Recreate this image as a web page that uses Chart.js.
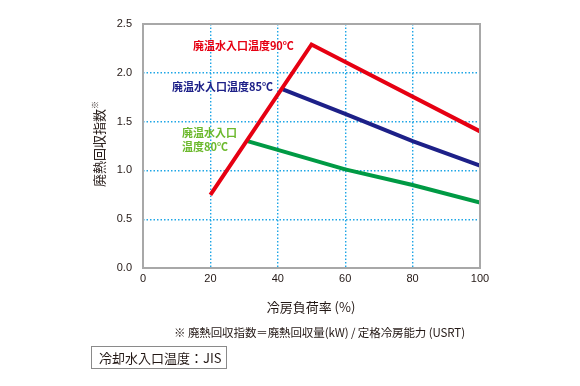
<!DOCTYPE html>
<html>
<head>
<meta charset="utf-8">
<script src="https://cdn.jsdelivr.net/npm/chart.js@4"></script>
<style>
  body { margin: 0; background: #fff; }
  #wrap { position: relative; width: 580px; height: 386px; font-family: "Noto Sans CJK JP", sans-serif; color: #231815; }
  #wrap canvas { position: absolute; left: 0; top: 0; }
  .ytitle { position: absolute; left: 98px; top: 144px; transform: translate(-50%, -50%) rotate(-90deg); font-size: 13px; white-space: nowrap; line-height: 1; }
  .ytitle sup { font-size: 8px; vertical-align: 6px; }
  .xtitle { position: absolute; left: 311px; top: 306px; transform: translate(-50%, -50%); font-size: 13px; white-space: nowrap; line-height: 1; }
  .note { position: absolute; left: 174px; top: 333px; transform: translateY(-50%); font-size: 11.5px; white-space: nowrap; line-height: 1; letter-spacing: -0.1px; }
  .cond { position: absolute; left: 91px; top: 346px; width: 136px; height: 23px; border: 1px solid #8a8a8a; font-size: 13px; line-height: 21px; padding-left: 7px; box-sizing: border-box; white-space: nowrap; }
</style>
</head>
<body>
<div id="wrap">
  <canvas id="myChart" width="580" height="386"></canvas>
  <div class="ytitle">廃熱回収指数<sup>※</sup></div>
  <div class="xtitle">冷房負荷率 (%)</div>
  <div class="note">※ 廃熱回収指数＝廃熱回収量(kW) / 定格冷房能力 (USRT)</div>
  <div class="cond">冷却水入口温度：JIS</div>
</div>
<script>
// データ (冷房負荷率 % と 廃熱回収指数)
var red90X = [20, 50, 100]
var red90Y = [0.75, 2.29, 1.40]
var blue85X = [41.5, 60, 80, 100]
var blue85Y = [1.83, 1.58, 1.30, 1.05]
var green80X = [31, 40, 60, 80, 100]
var green80Y = [1.30, 1.21, 1.01, 0.85, 0.67]
var seriesNames = ['廃温水入口温度90℃', '廃温水入口温度85℃', '廃温水入口温度80℃']
var xTicks = [0, 20, 40, 60, 80, 100]
var yTicks = [0.0, 0.5, 1.0, 1.5, 2.0, 2.5]

function pts(xs, ys) {
    return xs.map((x, i) => ({x: x, y: ys[i]}))
}

// 線の横に書くラベル
var labelPlugin = {
    id: 'lineLabels',
    afterDatasetsDraw(chart) {
        var ctx = chart.ctx
        var xs = chart.scales.x, ys = chart.scales.y
        var items = [
            {lines: [seriesNames[0]], x: 14.8, y: 2.275, color: '#e60012'},
            {lines: [seriesNames[1]], x: 8.6, y: 1.855, color: '#1d2088'},
            {lines: ['廃温水入口', '温度80℃'], x: 11.6, y: 1.383, color: '#6cb92d'}
        ]
        ctx.save()
        ctx.font = 'bold 11px "Noto Sans CJK JP"'
        ctx.textBaseline = 'middle'
        items.forEach((it) => {
            ctx.fillStyle = it.color
            it.lines.forEach((t, i) => {
                ctx.fillText(t, xs.getPixelForValue(it.x), ys.getPixelForValue(it.y) + i * 14)
            })
        })
        ctx.restore()
    }
}

// グラフの枠
var framePlugin = {
    id: 'frame',
    afterDraw(chart) {
        var a = chart.chartArea
        var ctx = chart.ctx
        ctx.save()
        ctx.strokeStyle = '#a8a8a8'
        ctx.lineWidth = 2
        ctx.strokeRect(a.left, a.top, a.right - a.left, a.bottom - a.top)
        ctx.restore()
    }
}

function gridColor(c) {
    var v = c.tick ? c.tick.value : null
    if (v === c.scale.min || v === c.scale.max) return 'rgba(0,0,0,0)'
    return '#1ea6e6'
}

var ctx = document.getElementById('myChart').getContext('2d')
var myChart = new Chart(ctx, {
    type: 'line',
    data: {
        datasets: [
            {label: seriesNames[0], data: pts(red90X, red90Y), borderColor: '#e60012'},
            {label: seriesNames[1], data: pts(blue85X, blue85Y), borderColor: '#1d2088'},
            {label: seriesNames[2], data: pts(green80X, green80Y), borderColor: '#009a44'}
        ]
    },
    options: {
        responsive: false,
        animation: false,
        layout: { padding: { left: 0, right: 100, top: 24, bottom: 0 } },
        elements: {
            line: { borderWidth: 4, tension: 0, borderJoinStyle: 'miter', borderCapStyle: 'butt' },
            point: { radius: 0 }
        },
        plugins: { legend: { display: false }, tooltip: { enabled: false } },
        scales: {
            x: {
                type: 'linear',
                min: 0, max: 100,
                afterFit(s) { s.height = 118 },
                afterBuildTicks(s) { s.ticks = xTicks.map(v => ({value: v})) },
                grid: { color: gridColor, lineWidth: 1.4, drawTicks: false },
                border: { display: false, dash: [1.5, 2] },
                ticks: { padding: 4, color: '#231815', font: { family: 'Liberation Sans', size: 11 } }
            },
            y: {
                min: 0, max: 2.5,
                afterFit(s) { s.width = 143 },
                afterBuildTicks(s) { s.ticks = yTicks.map(v => ({value: v})) },
                grid: { color: gridColor, lineWidth: 1.4, drawTicks: false },
                border: { display: false, dash: [1.5, 2] },
                ticks: {
                    padding: 11, color: '#231815', font: { family: 'Liberation Sans', size: 11 },
                    callback: (v) => v.toFixed(1)
                }
            }
        }
    },
    plugins: [labelPlugin, framePlugin]
})
</script>
</body>
</html>
